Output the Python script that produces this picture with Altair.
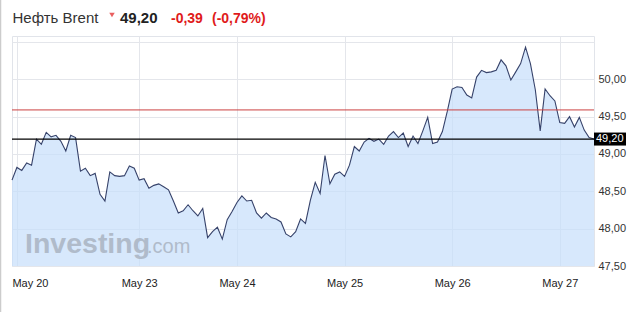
import altair as alt
import pandas as pd

# ---- data ----
prices = [
    48.65, 48.82, 48.78, 48.88, 48.85, 49.20, 49.13, 49.29, 49.23, 49.25,
    49.17, 49.04, 49.25, 49.22, 48.77, 48.81, 48.71, 48.74, 48.46, 48.37,
    48.76, 48.71, 48.70, 48.71, 48.84, 48.81, 48.65, 48.67, 48.54, 48.58,
    48.60, 48.56, 48.52, 48.37, 48.21, 48.24, 48.32, 48.24, 48.17, 48.27,
    47.88, 47.96, 48.02, 47.86, 48.12, 48.23, 48.35, 48.44, 48.37, 48.38,
    48.21, 48.14, 48.21, 48.15, 48.13, 48.09, 47.93, 47.89, 47.96, 48.13,
    48.07, 48.38, 48.62, 48.47, 48.98, 48.60, 48.73, 48.76, 48.70, 48.85,
    49.10, 49.04, 49.16, 49.21, 49.17, 49.20, 49.13, 49.24, 49.30, 49.22,
    49.28, 49.10, 49.24, 49.14, 49.31, 49.49, 49.14, 49.16, 49.30, 49.57,
    49.87, 49.90, 49.89, 49.79, 49.75, 50.03, 50.12, 50.09, 50.10, 50.12,
    50.26, 50.18, 49.99, 50.10, 50.21, 50.43, 50.21, 49.86, 49.31, 49.87,
    49.78, 49.71, 49.42, 49.41, 49.50, 49.36, 49.49, 49.32, 49.22, 49.20,
]
day_tick_index = [1, 26, 46, 68, 90, 112]
day_labels = ["May 20", "May 23", "May 24", "May 25", "May 26", "May 27"]
price_ticks = [47.5, 48.0, 48.5, 49.0, 49.5, 50.0, 50.5]
prev_close = 49.59
last_price = 49.20
title_name = "Нефть Brent"
title_price = "49,20"
title_change = "-0,39"
title_pct = "(-0,79%)"

df = pd.DataFrame({"i": list(range(len(prices))), "price": prices})

W, H = 582, 230
Y_DOMAIN = [47.5, 50.58]

# x label expression
expr = "''"
for idx, lab in reversed(list(zip(day_tick_index, day_labels))):
    expr = f"datum.value == {idx} ? '{lab}' : ({expr})"

xscale = alt.Scale(domain=[0, len(prices) - 1], nice=False, zero=False)
xaxis = alt.Axis(
    values=day_tick_index, labelExpr=expr, title=None, domain=False,
    ticks=False, grid=True, gridColor="#e4e6eb", labelFontSize=11,
    labelColor="#222222", labelFont="Liberation Sans", labelPadding=11,
    labelFlush=8, labelFlushOffset=5, labelOverlap=False,
)
yscale = alt.Scale(domain=Y_DOMAIN, nice=False, zero=False)
yaxis = alt.Axis(
    orient="right", values=price_ticks, title=None, domain=False,
    ticks=False, grid=True, gridColor="#e4e6eb", labelFontSize=11,
    labelColor="#333333", labelFont="Liberation Sans", labelPadding=4,
    labelOverlap=False, labelBound=False,
    labelExpr="datum.value > 50.25 ? '' : replace(format(datum.value, '.2f'), '.', ',')",
)

base = alt.Chart(df)
area = base.mark_area(color="#c6defb", opacity=0.7).encode(
    x=alt.X("i:Q", scale=xscale, axis=xaxis),
    y=alt.Y("price:Q", scale=yscale, axis=yaxis),
    y2=alt.datum(47.5),
)
line = base.mark_line(color="#36426a", strokeWidth=1.1).encode(
    x=alt.X("i:Q", scale=xscale, axis=xaxis),
    y=alt.Y("price:Q", scale=yscale, axis=yaxis),
)

one = pd.DataFrame({"k": [0]})
ref_df = pd.DataFrame({"price": [prev_close]})
last_df = pd.DataFrame({"price": [last_price], "t": [title_price]})

red_rule = alt.Chart(ref_df).mark_rule(color="#cc4040", strokeWidth=1).encode(
    y=alt.Y("price:Q", scale=yscale, axis=yaxis)
)
black_rule = alt.Chart(last_df).mark_rule(color="#000000", strokeWidth=1.3).encode(
    y=alt.Y("price:Q", scale=yscale, axis=yaxis)
)
box = alt.Chart(last_df).mark_rect(color="#000000", yOffset=-6.5, y2Offset=6.5, clip=False).encode(
    y=alt.Y("price:Q", scale=yscale, axis=yaxis), y2=alt.Y2("price:Q"),
    x=alt.value(W), x2=alt.value(W + 32),
)
box_text = alt.Chart(last_df).mark_text(
    color="white", fontSize=11, font="Liberation Sans", align="left",
    baseline="middle", clip=False, dx=2,
).encode(y=alt.Y("price:Q", scale=yscale, axis=yaxis), x=alt.value(W), text="t:N")

def label(txt, x, y, size, color, weight="normal", align="left"):
    return alt.Chart(one).mark_text(
        text=txt, fontSize=size, color=color, fontWeight=weight,
        font="Liberation Sans", align=align, baseline="alphabetic",
    ).encode(x=alt.value(x), y=alt.value(y))

t1 = label(title_name, 0.5, -13, 15, "#333333")
t2 = label(title_price, 108, -13, 15, "#222222", "bold")
t3 = label(title_change, 159, -13, 14, "#e01b1b", "bold")
t4 = label(title_pct, 200, -13, 14, "#e01b1b", "bold")
tri = alt.Chart(one).mark_point(
    shape="triangle-down", filled=True, color="#e01b1b", size=30
).encode(x=alt.value(100), y=alt.value(-21))

wm1 = label("Investing", 13, 217, 28.5, "#b0bbca", "bold")
wm2 = label(".com", 135, 217, 20, "#b0bbca")

left_border = alt.Chart(one).mark_rule(color="#cccccc", strokeWidth=1.5).encode(
    x=alt.value(-11.5), y=alt.value(-36), y2=alt.value(276)
)

chart = alt.layer(
    area, wm1, wm2, line, red_rule, black_rule, box, box_text,
    t1, tri, t2, t3, t4, left_border,
).properties(
    width=W, height=H,
    padding={"left": 12, "top": 36, "right": 46, "bottom": 46},
    autosize=alt.AutoSizeParams(type="none"),
    background="white",
).configure_view(stroke="#e1e4ea", strokeWidth=1)

chart.save("out.html", embed_options={"renderer": "svg", "actions": False})
